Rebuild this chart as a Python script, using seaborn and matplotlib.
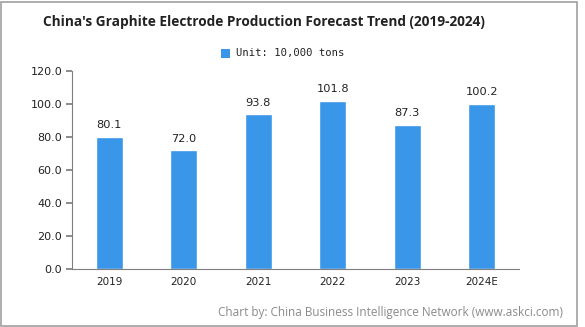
import matplotlib
matplotlib.use("Agg")
import matplotlib.pyplot as plt
import seaborn as sns
import pandas as pd
import numpy as np
from matplotlib.patches import Rectangle

years = ["2019", "2020", "2021", "2022", "2023", "2024E"]
production = [80.1, 72.0, 93.8, 101.8, 87.3, 100.2]
y_ticks = [0, 20, 40, 60, 80, 100, 120]

df = pd.DataFrame({"year": years, "production": production})

sns.set_theme(style="white")
plt.rcParams["font.family"] = ["DejaVu Sans"]

bar_color = "#3a96e8"
axis_color = "#7f7f7f"

fig = plt.figure(figsize=(5.85, 3.27), dpi=100)
ax = fig.add_axes([0.123, 0.177, 0.764, 0.606])

sns.barplot(data=df, x="year", y="production", color=bar_color,
            width=0.36, saturation=1, ax=ax)

for i, v in enumerate(production):
    ax.text(i, v + 4, f"{v:.1f}", ha="center", va="bottom",
            fontsize=8.2, color="#222222")

ax.set_ylim(0, 120)
ax.set_xlim(-0.5, len(years) - 0.5)
ax.set_yticks(y_ticks)
ax.set_yticklabels([f"{t:.1f}" for t in y_ticks], fontsize=8, color="#222222")
ax.set_xticks(range(len(years)))
ax.set_xticklabels(years, fontsize=7.5, color="#222222")
ax.set_xticks(np.arange(-0.5, len(years)), minor=True)
ax.tick_params(axis="x", which="major", length=0, pad=6)
ax.tick_params(axis="x", which="minor", length=4, color=axis_color, direction="out")
ax.tick_params(axis="y", length=4, color=axis_color, direction="out", left=True, pad=3)
ax.set_xlabel("")
ax.set_ylabel("")
for side in ["top", "right"]:
    ax.spines[side].set_visible(False)
for side in ["left", "bottom"]:
    ax.spines[side].set_color(axis_color)
    ax.spines[side].set_linewidth(0.8)

fig.text(0.452, 0.933, "China's Graphite Electrode Production Forecast Trend (2019-2024)",
         ha="center", va="center", fontsize=9.8, fontweight="bold", color="#222222",
         family=["Open Sans", "DejaVu Sans"])

# legend
fig.patches.append(Rectangle((0.378, 0.822), 0.016, 0.028, transform=fig.transFigure,
                             facecolor=bar_color, edgecolor="none"))
fig.text(0.404, 0.838, "Unit: 10,000 tons", ha="left", va="center",
         fontsize=7.6, color="#222222", family="DejaVu Sans Mono")

fig.text(0.963, 0.045, "Chart by: China Business Intelligence Network (www.askci.com)",
         ha="right", va="center", fontsize=8.45, color="#8a8a8a",
         family=["Open Sans", "DejaVu Sans"])

# outer frame
fig.patches.append(Rectangle((0.002, 0.003), 0.984, 0.992, transform=fig.transFigure,
                             facecolor="none", edgecolor="#a0a0a0", linewidth=1.2))

fig.savefig("out.png", dpi=100)
